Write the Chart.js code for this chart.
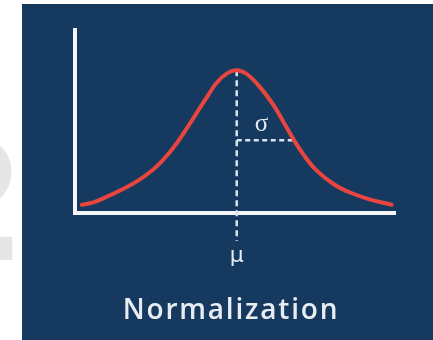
<!DOCTYPE html>
<html>
<head>
<meta charset="utf-8">
<script src="https://cdn.jsdelivr.net/npm/chart.js@4/dist/chart.umd.min.js"></script>
<style>
  html, body { margin: 0; padding: 0; background: #ffffff; }
  #wrap { position: relative; width: 433px; height: 340px; overflow: hidden; }
  #mark {
    position: absolute; left: -90px; top: 118px;
    font: bold 168px "DejaVu Sans", sans-serif; color: #e6e6e6;
    line-height: 1; letter-spacing: -2px;
  }
  canvas { position: absolute; left: 0; top: 0; }
</style>
</head>
<body>
<div id="wrap">
  <div id="mark">20</div>
  <canvas id="normChart" width="433" height="340"></canvas>
</div>
<script>
// curve: x in standard deviations, y as density
const xValues = [-2.7, -2.5, -2.3, -2.0, -1.7, -1.4, -1.1, -0.9, -0.7, -0.5, -0.35, -0.18,
                 0, 0.18, 0.42, 0.65, 0.82, 1.0, 1.18, 1.4, 1.7, 2.0, 2.3, 2.7];
const yValues = [0.023, 0.030, 0.043, 0.066, 0.093, 0.130, 0.184, 0.230, 0.280, 0.330, 0.365, 0.390,
                 0.400, 0.389, 0.350, 0.300, 0.254, 0.204, 0.160, 0.118, 0.080, 0.056, 0.039, 0.023];
const mu = 0;
const sigma = 1;
const labels = { mu: 'μ', sigma: 'σ', title: 'Normalization' };

const navy = '#163a5f';
const lineColor = '#e8453f';
const dashColor = '#d9e3ee';

document.addEventListener('DOMContentLoaded', () => {
  const ctx = document.getElementById('normChart').getContext('2d');

  // navy panel behind everything
  const panel = {
    id: 'panel',
    beforeDraw(chart) {
      const c = chart.ctx;
      c.save();
      c.fillStyle = navy;
      c.fillRect(22, 4, chart.width - 22, chart.height - 4);
      c.restore();
    }
  };

  // dashed mean / sigma guides, drawn under the curve
  const guides = {
    id: 'guides',
    beforeDatasetsDraw(chart) {
      const { ctx: c, scales: { x, y } } = chart;
      const peak = yValues[xValues.indexOf(mu)];
      const atSigma = yValues[xValues.indexOf(sigma)];
      const mx = x.getPixelForValue(mu);
      c.save();
      c.strokeStyle = dashColor;
      c.lineWidth = 2.5;
      c.setLineDash([6, 4]);
      c.beginPath();
      c.moveTo(mx, y.getPixelForValue(peak));
      c.lineTo(mx, y.getPixelForValue(0) + 28);
      c.stroke();
      c.setLineDash([5, 3.5]);
      c.beginPath();
      c.moveTo(mx, y.getPixelForValue(atSigma));
      c.lineTo(x.getPixelForValue(sigma), y.getPixelForValue(atSigma));
      c.stroke();
      c.restore();
    },
    afterDraw(chart) {
      const { ctx: c, scales: { x, y } } = chart;
      const atSigma = yValues[xValues.indexOf(sigma)];
      const mx = x.getPixelForValue(mu);
      c.save();
      c.fillStyle = '#e3eaf2';
      c.textAlign = 'center';
      c.textBaseline = 'middle';
      c.font = '22px "DejaVu Sans"';
      c.fillText(labels.mu, mx, y.getPixelForValue(0) + 43);
      c.font = '25px "Liberation Serif"';
      c.fillText(labels.sigma, (mx + x.getPixelForValue(sigma)) / 2 - 4, y.getPixelForValue(atSigma) - 16);
      c.font = '600 28px "Open Sans"';
      if ('letterSpacing' in c) c.letterSpacing = '1.8px';
      c.fillStyle = '#e8edf3';
      c.fillText(labels.title, 231, 311);
      c.restore();
    }
  };

  new Chart(ctx, {
    type: 'line',
    data: {
      datasets: [{
        data: xValues.map((v, i) => ({ x: v, y: yValues[i] })),
        borderColor: lineColor,
        borderWidth: 4,
        pointRadius: 0,
        tension: 0.4,
        borderCapStyle: 'round',
        fill: false
      }]
    },
    options: {
      responsive: false,
      devicePixelRatio: 1,
      animation: false,
      layout: { padding: { left: 75, right: 38, top: 30, bottom: 127 } },
      plugins: { legend: { display: false }, tooltip: { enabled: false } },
      scales: {
        x: {
          type: 'linear', min: -2.82, max: 2.76,
          grid: { display: false, drawTicks: false },
          ticks: { display: false },
          border: { display: true, color: '#f3f5f8', width: 4 }
        },
        y: {
          min: 0, max: 0.513,
          grid: { display: false, drawTicks: false },
          ticks: { display: false },
          border: { display: true, color: '#f3f5f8', width: 4 }
        }
      }
    },
    plugins: [panel, guides]
  });
});
</script>
</body>
</html>
